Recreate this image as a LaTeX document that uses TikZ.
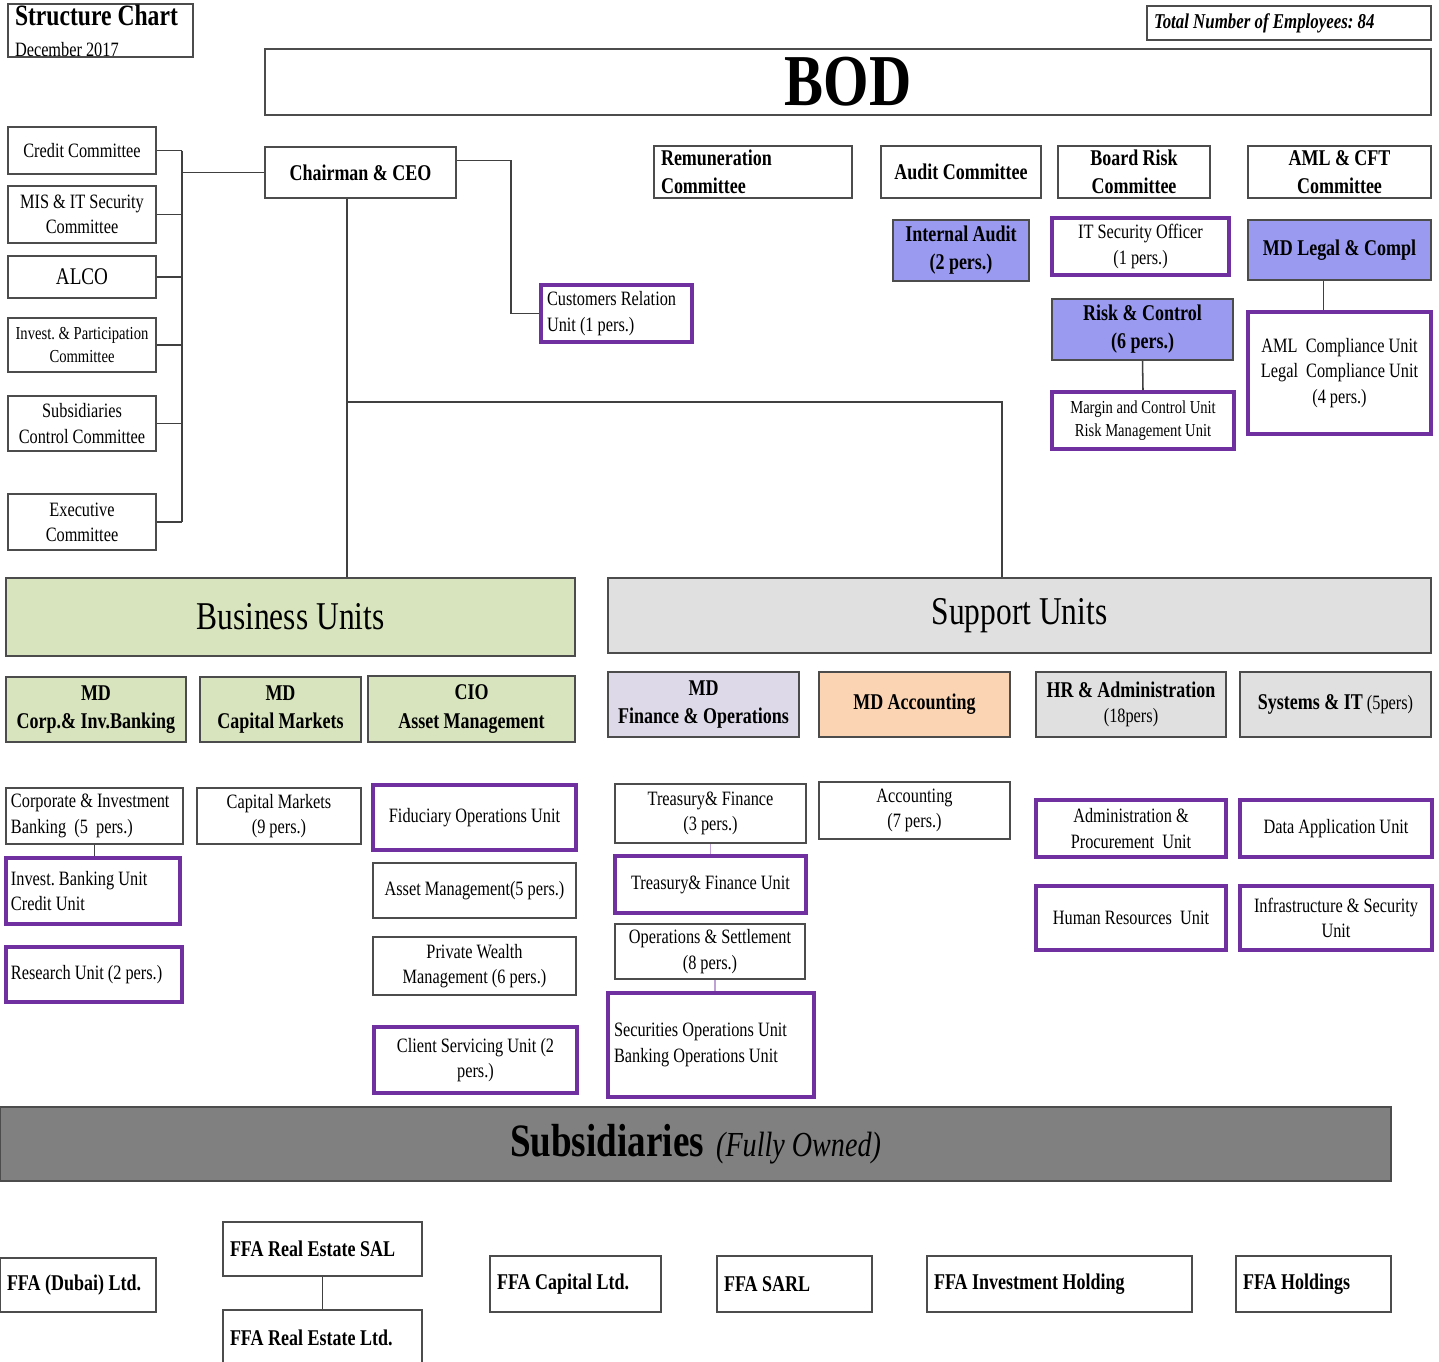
\documentclass[tikz,border=0pt]{standalone}
\usepackage{fontspec}
\setmainfont[FakeStretch=0.8]{Liberation Serif}
\frenchspacing
\definecolor{unitpurple}{HTML}{7030A0}
\definecolor{mdblue}{HTML}{9A9AF0}
\definecolor{bugreen}{HTML}{D7E4BD}
\definecolor{sugray}{HTML}{E0E0E0}
\definecolor{finlav}{HTML}{DDD9E9}
\definecolor{accpeach}{HTML}{FBD4B4}
\definecolor{subgray}{HTML}{808080}
\newcommand\unitfont{\fontsize{14.5}{18}\selectfont}
\newcommand\smallunit{\fontsize{13}{16}\selectfont}
\newcommand\headfont{\fontsize{16}{20}\selectfont\bfseries}
\tikzset{
  box/.style={draw=black!70, line width=1.1pt, inner sep=0pt, align=center, font=\unitfont,
    execute at begin node={\spaceskip=0pt\xspaceskip=0pt}},
  unit/.style={box, draw=unitpurple, line width=2.6pt},
  head/.style={box, font=\headfont},
  sz/.code 2 args={\pgfmathsetlengthmacro\szw{#1*0.25mm}\pgfmathsetlengthmacro\szh{#2*0.25mm}%
    \tikzset{minimum width=\szw, minimum height=\szh}},
  lft/.code={\pgfmathsetlengthmacro\lftw{#1*0.25mm}\tikzset{align=left, text width=\lftw}},
  link/.style={draw=black!75, line width=1.1pt},
}
\begin{document}
\begin{tikzpicture}[x=0.25mm,y=-0.25mm]
  \useasboundingbox (0,0) rectangle (1439,1361);
  % board level
  \path
    (100.5,30.5) node[box,sz={185}{53},lft=171] (title) {{\fontsize{21}{22}\selectfont\bfseries Structure Chart}\\[4pt]December 2017}
    (1289,23) node[box,sz={284}{34},lft=270,font=\fontsize{15}{18}\selectfont\bfseries\itshape] (total) {Total Number of Employees: 84}
    (848,82) node[box,sz={1166}{66},font=\fontsize{52}{52}\selectfont\bfseries] (bod) {BOD}
    (360.5,172.5) node[head,sz={191}{51}] (chair) {Chairman \& CEO}
    (753,172) node[head,sz={198}{52},lft=184] (remun) {Remuneration\\Committee}
    (961,172) node[head,sz={160}{52}] (audit) {Audit Committee}
    (1134,172) node[head,sz={152}{52}] (brisk) {Board Risk\\Committee}
    (1339.5,172) node[head,sz={183}{52}] (amlcft) {AML \& CFT\\Committee}
    (961,250.5) node[head,fill=mdblue,sz={136}{61}] (iaudit) {Internal Audit\\(2 pers.)}
    (1140.5,246.5) node[unit,sz={177}{57}] (itsec) {IT Security Officer\\(1 pers.)}
    (1142.5,329.5) node[head,fill=mdblue,sz={181}{61}] (riskc) {Risk \& Control\\(6 pers.)}
    (1143,420.5) node[unit,sz={182}{57},font=\smallunit] (margin) {Margin and Control Unit\\Risk Management Unit}
    (1339.5,250) node[head,fill=mdblue,sz={183}{60}] (mdlegal) {MD Legal \& Compl}
    (1339.5,373) node[unit,sz={183}{122}] (amlunit) {AML\ \ Compliance Unit\\Legal\ \ Compliance Unit\\(4 pers.)}
    (616.5,313.5) node[unit,sz={151}{57},lft=139] (crel) {Customers Relation\\Unit (1 pers.)};
  % committees
  \path
    (82,150.5) node[box,sz={148}{47}] (credit) {Credit Committee}
    (82,214.5) node[box,sz={148}{57}] (mis) {MIS \& IT Security\\Committee}
    (82,277) node[box,sz={148}{42},font=\fontsize{17}{20}\selectfont] (alco) {ALCO}
    (82,345) node[box,sz={148}{54},font=\smallunit] (invest) {Invest. \& Participation\\Committee}
    (82,423.5) node[box,sz={148}{55}] (subctl) {Subsidiaries\\Control Committee}
    (82,522) node[box,sz={148}{56}] (exec) {Executive\\Committee};
  % business and support units
  \path
    (290.5,617) node[box,fill=bugreen,sz={569}{78},font=\fontsize{28}{30}\selectfont] (bu) {Business Units}
    (1019.5,615.5) node[box,fill=sugray,sz={823}{75},font=\fontsize{28}{30}\selectfont] (su) {Support Units}
    (96,709.5) node[head,fill=bugreen,sz={180}{65}] (mdcorp) {MD\\Corp.\& Inv.Banking}
    (280.5,709.5) node[head,fill=bugreen,sz={161}{65}] (mdcap) {MD\\Capital Markets}
    (471.5,709) node[head,fill=bugreen,sz={207}{66}] (cio) {CIO\\Asset Management}
    (703.5,704.5) node[head,fill=finlav,sz={191}{65}] (mdfin) {MD\\Finance \& Operations}
    (914.5,704.5) node[head,fill=accpeach,sz={191}{65}] (mdacc) {MD Accounting}
    (1131,704.5) node[box,fill=sugray,sz={190}{65}] (hr) {{\headfont HR \& Administration}\\(18pers)}
    (1335.5,704.5) node[box,fill=sugray,sz={191}{65}] (sysit) {{\headfont Systems \& IT} (5pers)};
  % units
  \path
    (94.5,816) node[box,sz={177}{56},lft=167] (cib) {Corporate \& Investment\\Banking\ \ (5\ \ pers.)}
    (93,891) node[unit,sz={174}{66},lft=164] (ibu) {Invest. Banking Unit\\Credit Unit}
    (94,974.5) node[unit,sz={176}{55},lft=166] (research) {Research Unit (2 pers.)}
    (279,816) node[box,sz={164}{56}] (capm) {Capital Markets\\(9 pers.)}
    (474.5,817.5) node[unit,sz={203}{65}] (fidu) {Fiduciary Operations Unit}
    (474.5,890.5) node[box,sz={203}{55}] (am) {Asset Management(5 pers.)}
    (474.5,966) node[box,sz={203}{58}] (pwm) {Private Wealth\\Management (6 pers.)}
    (475.5,1060) node[unit,sz={203}{66}] (client) {Client Servicing Unit (2\\pers.)}
    (710.5,813.5) node[box,sz={191}{59}] (tf) {Treasury\& Finance\\(3 pers.)}
    (710.5,884.5) node[unit,sz={191}{57}] (tfu) {Treasury\& Finance Unit}
    (710,951.5) node[box,sz={190}{55}] (ops) {Operations \& Settlement\\(8 pers.)}
    (711,1045) node[unit,sz={206}{104},lft=194] (sec) {Securities Operations Unit\\Banking Operations Unit}
    (914.5,810.5) node[box,sz={191}{57}] (acc) {Accounting\\(7 pers.)}
    (1131,828.5) node[unit,sz={190}{57}] (admin) {Administration \&\\Procurement\ \ Unit}
    (1336,828.5) node[unit,sz={192}{57}] (dataapp) {Data Application Unit}
    (1131,918) node[unit,sz={190}{64}] (hres) {Human Resources\ \ Unit}
    (1336,918) node[unit,sz={192}{64}] (infra) {Infrastructure \& Security\\Unit};
  % subsidiaries
  \path
    (695.5,1144) node[box,fill=subgray,sz={1391}{74}] (subs) {{\fontsize{33}{36}\selectfont\bfseries Subsidiaries}\ \ \ {\fontsize{25}{30}\selectfont\itshape (Fully Owned)}}
    (78,1285) node[head,sz={156}{54},lft=142] (dubai) {FFA (Dubai) Ltd.}
    (322.5,1249) node[head,sz={199}{54},lft=185] (resal) {FFA Real Estate SAL}
    (322.5,1338) node[head,sz={199}{56},lft=185] (reltd) {FFA Real Estate Ltd.}
    (575.5,1284) node[head,sz={171}{56},lft=157] (ffacap) {FFA Capital Ltd.}
    (794.5,1284) node[head,sz={155}{56},lft=141] (sarl) {FFA SARL}
    (1059.5,1284) node[head,sz={265}{56},lft=251] (invh) {FFA Investment Holding}
    (1313.5,1284) node[head,sz={155}{56},lft=141] (hold) {FFA Holdings};
  \coordinate (cbus) at (182,0);
  \coordinate (crj) at (511,313.5);
  \coordinate (trunk) at (347,402);
  \coordinate (sj) at (1002,402);
  \begin{scope}[link]
    \foreach \c in {credit,mis,alco,invest,subctl,exec}
      \draw (\c.east) -- (\c.east -| cbus);
    \draw (credit.east -| cbus) -- (exec.east -| cbus);
    \draw (chair.west) -- (chair.west -| cbus);
    \draw ([yshift=3mm]chair.east) -| (crj) -- (crel.west);
    \draw (chair.south -| trunk) -- (bu.north -| trunk);
    \draw (trunk) -- (sj) -- (su.north -| sj);
    \draw (riskc.south) -- (margin.north);
    \draw ([xshift=-4mm]mdlegal.south) -- ([xshift=-4mm]amlunit.north);
    \draw (cib.south) -- (cib.south |- ibu.north);
    \draw[unitpurple!45] (tf.south) -- (tfu.north);
    \draw[unitpurple!45] ([xshift=1.2mm]ops.south) -- ([xshift=1.2mm]ops.south |- sec.north);
    \draw (resal.south) -- (reltd.north);
  \end{scope}
\end{tikzpicture}
\end{document}
